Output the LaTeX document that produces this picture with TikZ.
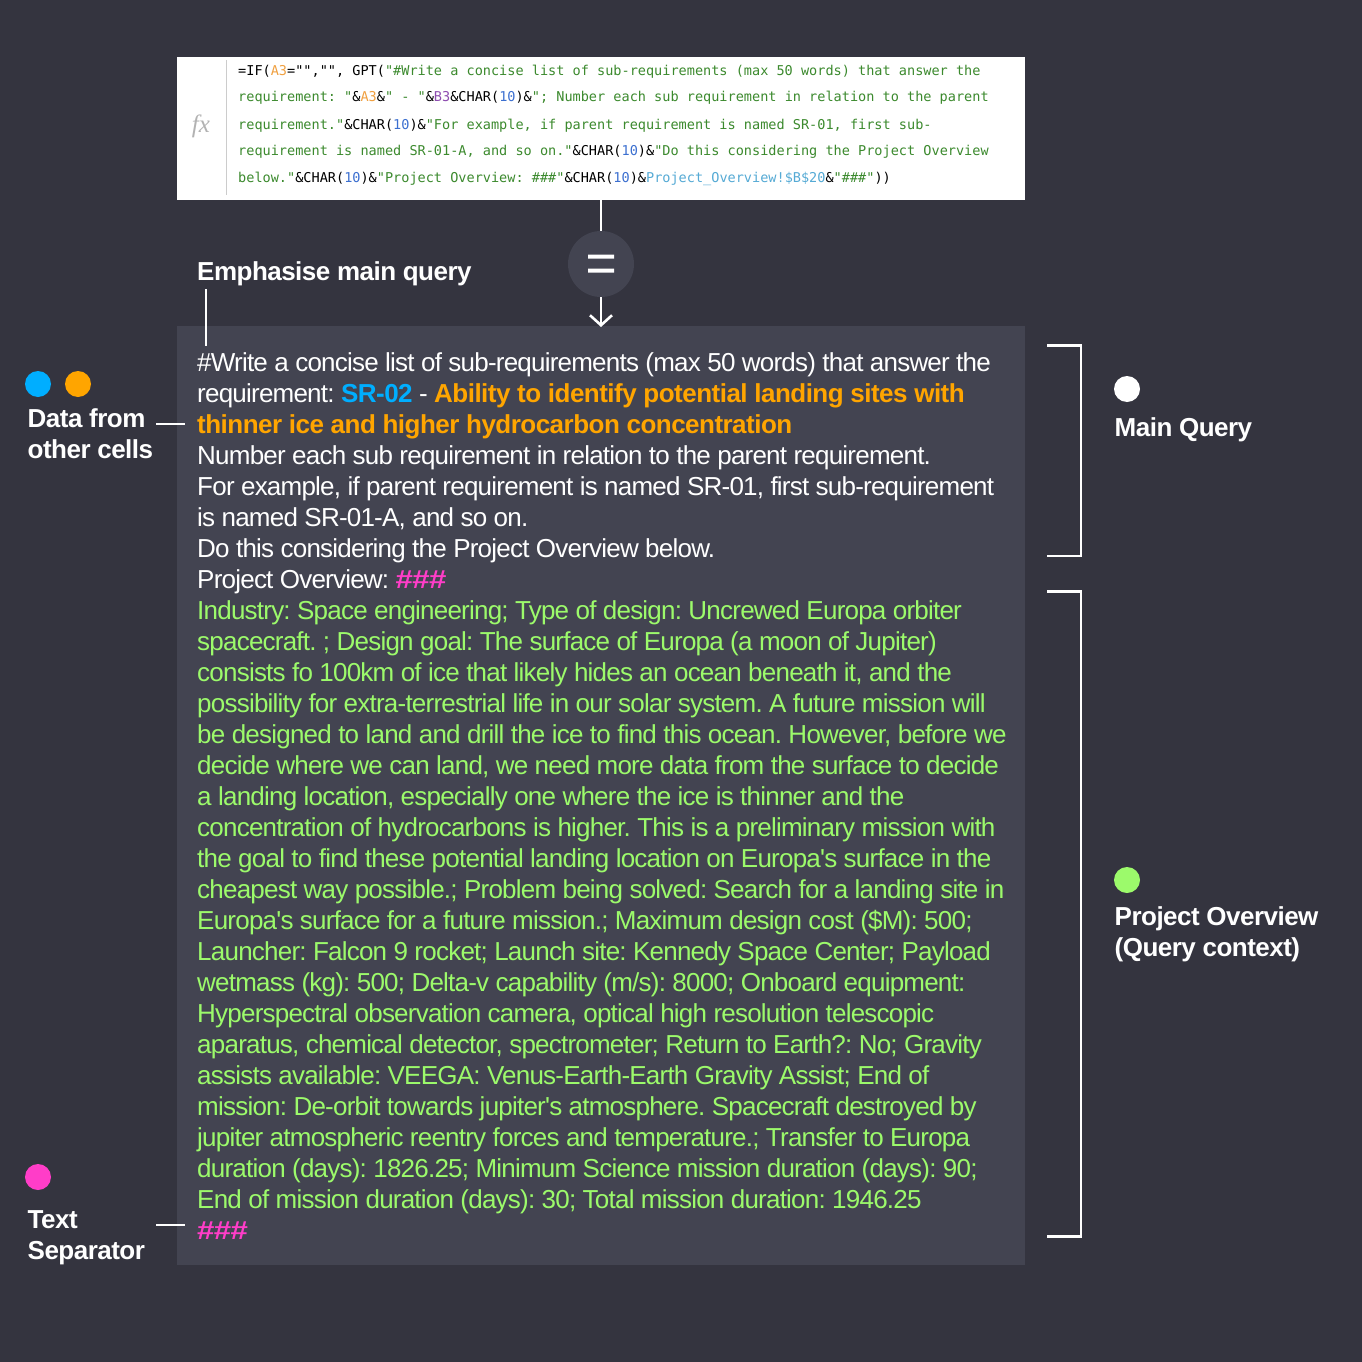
\documentclass[tikz,border=0pt]{standalone}
\usepackage{fontspec}
\setmainfont[LetterSpace=-3, BoldFeatures={LetterSpace=-2}, Ligatures=TeXOff]{Liberation Sans}
\newfontfamily\codefont{DejaVu Sans Mono}
\newfontfamily\fxfont{Liberation Serif}
\usetikzlibrary{arrows.meta, positioning}

\definecolor{bgdark}{HTML}{34343F}
\definecolor{panelgrey}{HTML}{434451}
\definecolor{cellblue}{HTML}{00AEFF}
\definecolor{cellorange}{HTML}{FFA500}
\definecolor{sepink}{HTML}{FF3DC8}
\definecolor{ctxgreen}{HTML}{9CFA6B}
\definecolor{codegreen}{HTML}{3C8A2E}
\definecolor{codeorange}{HTML}{F0A040}
\definecolor{codepurple}{HTML}{8E4DB0}
\definecolor{codeblue}{HTML}{3B6FD0}
\definecolor{codesky}{HTML}{55AAD5}

\tikzset{
    dot/.style={circle, inner sep=0pt, minimum size=26pt},
    sidelabel/.style={anchor=north west, inner sep=0pt, align=left, text=white, font=\fontsize{26}{31}\selectfont\bfseries},
    rule/.style={draw=white, line width=2.6pt},
    codeline/.style={anchor=base west, inner sep=0pt, font=\codefont\fontsize{13.55}{16}\selectfont}
}
\newcommand{\cg}[1]{\textcolor{codegreen}{#1}}
\newcommand{\hashes}{{\bfseries\textcolor{sepink}{\scalebox{1.2}[1]{\#\#\#}}}}

\begin{document}
\frenchspacing
\begin{tikzpicture}[x=1pt, y=-1pt]
    \useasboundingbox[fill=bgdark] (0,0) rectangle (1362,1362);

    % Formula cell
    \node[fill=white, minimum width=848pt, minimum height=143pt, inner sep=0pt, anchor=north west] (cell) at (177,57) {};
    \fill[black!20] (226,60) rectangle (227,195);
    \node[text=black!30, font=\fxfont\itshape\fontsize{25}{25}\selectfont] (fx) at (201,126) {fx};
    \node[codeline] (code1) at (238,75.5) {=IF(\textcolor{codeorange}{A3}="","", GPT(\cg{"\#Write a concise list of sub-requirements (max 50 words) that answer the}};
    \node[codeline] (code2) at (238,102) {\cg{requirement: "}\&\textcolor{codeorange}{A3}\&\cg{" - "}\&\textcolor{codepurple}{B3}\&CHAR(\textcolor{codeblue}{10})\&\cg{"; Number each sub requirement in relation to the parent}};
    \node[codeline] (code3) at (238,129) {\cg{requirement."}\&CHAR(\textcolor{codeblue}{10})\&\cg{"For example, if parent requirement is named SR-01, first sub-}};
    \node[codeline] (code4) at (238,155.5) {\cg{requirement is named SR-01-A, and so on."}\&CHAR(\textcolor{codeblue}{10})\&\cg{"Do this considering the Project Overview}};
    \node[codeline] (code5) at (238,182.5) {\cg{below."}\&CHAR(\textcolor{codeblue}{10})\&\cg{"Project Overview: \#\#\#"}\&CHAR(\textcolor{codeblue}{10})\&\textcolor{codesky}{Project\_Overview!\$B\$20}\&\cg{"\#\#\#"}))};

    % Equals sign and arrow
    \node[circle, fill=panelgrey, minimum size=66pt, inner sep=0pt, text=white] (equals) at (601,264) {};
    \fill[white] (588,254.5) rectangle (614,258.5) (588,268.5) rectangle (614,272.5);
    \draw[rule] (cell.south -| equals) -- (equals.north);
    \node[fill=panelgrey, minimum width=848pt, minimum height=939pt, inner sep=0pt, anchor=north west] (panel) at (177,326) {};
    \coordinate (arrowend) at (601,327);
    \draw[rule, -{Straight Barb[length=10pt, width=22pt]}] (equals.south) -- (arrowend);

    % Main text
    \node[anchor=north west, inner sep=0pt, align=left, text=white, font=\fontsize{26}{31}\selectfont] (querytext) at (197,352) {%
        \#Write a concise list of sub-requirements (max 50 words) that answer the\\
        requirement: {\bfseries\textcolor{cellblue}{SR-02}} - {\bfseries\textcolor{cellorange}{Ability to identify potential landing sites with}}\\
        {\bfseries\textcolor{cellorange}{thinner ice and higher hydrocarbon concentration}}\\
        Number each sub requirement in relation to the parent requirement.\\
        For example, if parent requirement is named SR-01, first sub-requirement\\
        is named SR-01-A, and so on.\\
        Do this considering the Project Overview below.\\
        Project Overview: \hashes\\
        \textcolor{ctxgreen}{Industry: Space engineering; Type of design: Uncrewed Europa orbiter}\\
        \textcolor{ctxgreen}{spacecraft. ; Design goal: The surface of Europa (a moon of Jupiter)}\\
        \textcolor{ctxgreen}{consists fo 100km of ice that likely hides an ocean beneath it, and the}\\
        \textcolor{ctxgreen}{possibility for extra-terrestrial life in our solar system. A future mission will}\\
        \textcolor{ctxgreen}{be designed to land and drill the ice to find this ocean. However, before we}\\
        \textcolor{ctxgreen}{decide where we can land, we need more data from the surface to decide}\\
        \textcolor{ctxgreen}{a landing location, especially one where the ice is thinner and the}\\
        \textcolor{ctxgreen}{concentration of hydrocarbons is higher. This is a preliminary mission with}\\
        \textcolor{ctxgreen}{the goal to find these potential landing location on Europa's surface in the}\\
        \textcolor{ctxgreen}{cheapest way possible.; Problem being solved: Search for a landing site in}\\
        \textcolor{ctxgreen}{Europa's surface for a future mission.; Maximum design cost (\$M): 500;}\\
        \textcolor{ctxgreen}{Launcher: Falcon 9 rocket; Launch site: Kennedy Space Center; Payload}\\
        \textcolor{ctxgreen}{wetmass (kg): 500; Delta-v capability (m/s): 8000; Onboard equipment:}\\
        \textcolor{ctxgreen}{Hyperspectral observation camera, optical high resolution telescopic}\\
        \textcolor{ctxgreen}{aparatus, chemical detector, spectrometer; Return to Earth?: No; Gravity}\\
        \textcolor{ctxgreen}{assists available: VEEGA: Venus-Earth-Earth Gravity Assist; End of}\\
        \textcolor{ctxgreen}{mission: De-orbit towards jupiter's atmosphere. Spacecraft destroyed by}\\
        \textcolor{ctxgreen}{jupiter atmospheric reentry forces and temperature.; Transfer to Europa}\\
        \textcolor{ctxgreen}{duration (days): 1826.25; Minimum Science mission duration (days): 90;}\\
        \textcolor{ctxgreen}{End of mission duration (days): 30; Total mission duration: 1946.25}\\
        \hashes
    };

    % Left labels
    \node[sidelabel] (emphasise) at (197,261) {Emphasise main query};
    \coordinate (emphstart) at (206,289);
    \coordinate (emphend) at (206,346);
    \draw[rule] (emphstart) -- (emphend);

    \node[dot, fill=cellblue] (dotblue) at (38,384) {};
    \node[dot, fill=cellorange] (dotorange) at (78,384) {};
    \node[sidelabel] (datalabel) at (27.5,408) {Data from\\other cells};
    \coordinate (datastart) at (156,424);
    \coordinate (dataend) at (185,424);
    \draw[rule] (datastart) -- (dataend);

    \node[dot, fill=sepink] (dotpink) at (38,1177) {};
    \node[sidelabel] (seplabel) at (27.5,1210) {Text\\Separator};
    \coordinate (sepstart) at (156,1225);
    \coordinate (sepend) at (185,1225);
    \draw[rule] (sepstart) -- (sepend);

    % Right brackets
    \draw[rule] (1047,345.5) -- (1081,345.5) -- (1081,556) -- (1047,556);
    \draw[rule] (1047,591.5) -- (1081,591.5) -- (1081,1236.5) -- (1047,1236.5);

    \node[dot, fill=white] (dotwhite) at (1127,389) {};
    \node[sidelabel] (mainlabel) at (1114.5,417) {Main Query};
    \node[dot, fill=ctxgreen] (dotgreen) at (1127,880) {};
    \node[sidelabel] (ctxlabel) at (1114.5,906) {Project Overview\\(Query context)};
\end{tikzpicture}
\end{document}
